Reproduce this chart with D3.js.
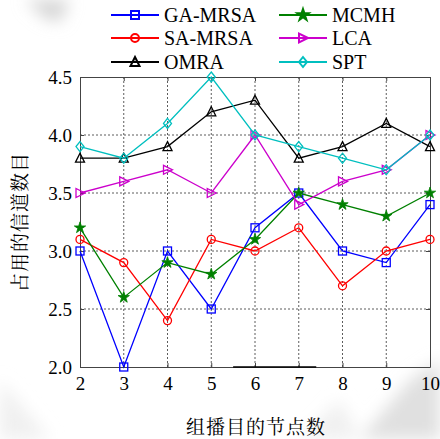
<!DOCTYPE html>
<html>
<head>
<meta charset="utf-8">
<script src="https://cdn.jsdelivr.net/npm/d3@7"></script>
<style>
  body { margin: 0; background: #fff; }
  svg { display: block; }
</style>
</head>
<body>
<svg id="chart" width="440" height="439"></svg>
<script>
// Data
const nodes = [2, 3, 4, 5, 6, 7, 8, 9, 10];
const gaMrsa = [3.0, 2.0, 3.0, 2.5, 3.2, 3.5, 3.0, 2.9, 3.4];
const saMrsa = [3.1, 2.9, 2.4, 3.1, 3.0, 3.2, 2.7, 3.0, 3.1];
const omra   = [3.8, 3.8, 3.9, 4.2, 4.3, 3.8, 3.9, 4.1, 3.9];
const mcmh   = [3.2, 2.6, 2.9, 2.8, 3.1, 3.5, 3.4, 3.3, 3.5];
const lca    = [3.5, 3.6, 3.7, 3.5, 4.0, 3.4, 3.6, 3.7, 4.0];
const spt    = [3.9, 3.8, 4.1, 4.5, 4.0, 3.9, 3.8, 3.7, 4.0];
const yTicks = [2.0, 2.5, 3.0, 3.5, 4.0, 4.5];

const SERIF = '"Liberation Serif", "Noto Serif CJK SC", serif';
const CJK = '"Noto Serif CJK SC"';

// Plot box
let margin = { top: 77, left: 80, right: 10, bottom: 72 },
    width = 440 - margin.left - margin.right,
    height = 439 - margin.top - margin.bottom;

let svg = d3.select("#chart");

// Faint grey watermark smudges from the scanned page
let defs = svg.append("defs");
defs.append("filter").attr("id", "blur").attr("x", "-50%").attr("y", "-50%").attr("width", "200%").attr("height", "200%")
  .append("feGaussianBlur").attr("stdDeviation", 8);
let smudge = svg.append("g").attr("filter", "url(#blur)");
smudge.append("path").attr("d", "M25,0L70,0L60,22L45,18Z").attr("fill", "#d4d4d4");
smudge.append("path").attr("d", "M360,439L410,380L440,360L440,439Z").attr("fill", "#e0e0e0");
smudge.append("path").attr("d", "M300,439L340,400L360,439Z").attr("fill", "#f0f0f0");
smudge.append("path").attr("d", "M0,380L50,439L0,439Z").attr("fill", "#f0f0f0");

let x = d3.scaleLinear().domain([2, 10]).range([0, width]);
let y = d3.scaleLinear().domain([2, 4.5]).range([height, 0]);

let series = [
  { name: "GA-MRSA", values: gaMrsa, color: "#0000ff", marker: "square" },
  { name: "SA-MRSA", values: saMrsa, color: "#ff0000", marker: "circle" },
  { name: "OMRA",    values: omra,   color: "#000000", marker: "triUp" },
  { name: "MCMH",    values: mcmh,   color: "#008000", marker: "star" },
  { name: "LCA",     values: lca,    color: "#cc00cc", marker: "triRight" },
  { name: "SPT",     values: spt,    color: "#00bfbf", marker: "diamond" }
];

// Draws a marker shape centered at (0,0)
function drawMarker(g, type, color) {
  let s = 4;
  if (type === "square") {
    g.append("rect").attr("x", -s).attr("y", -s).attr("width", 2 * s).attr("height", 2 * s)
      .attr("fill", "none").attr("stroke", color).attr("stroke-width", 1.3);
  } else if (type === "circle") {
    g.append("circle").attr("r", s).attr("fill", "none").attr("stroke", color).attr("stroke-width", 1.3);
  } else if (type === "triUp") {
    g.append("path").attr("d", `M0,${-s - 1}L${s + 0.5},${s}L${-s - 0.5},${s}Z`)
      .attr("fill", "none").attr("stroke", color).attr("stroke-width", 1.3);
  } else if (type === "triRight") {
    g.append("path").attr("d", `M${s + 1},0L${-s},${-s - 0.5}L${-s},${s + 0.5}Z`)
      .attr("fill", "none").attr("stroke", color).attr("stroke-width", 1.3);
  } else if (type === "diamond") {
    g.append("path").attr("d", `M0,${-s - 1}L${s},0L0,${s + 1}L${-s},0Z`)
      .attr("fill", "none").attr("stroke", color).attr("stroke-width", 1.3);
  } else if (type === "star") {
    g.append("path").attr("d", d3.symbol().type(d3.symbolStar).size(40)())
      .attr("fill", color).attr("stroke", color).attr("stroke-width", 0.8);
  }
}

let plot = svg.append("g").attr("transform", `translate(${margin.left},${margin.top})`);

// Grid lines
plot.selectAll(".vgrid").data(nodes.slice(1, -1)).enter().append("line")
  .attr("x1", d => x(d)).attr("x2", d => x(d)).attr("y1", 0).attr("y2", height)
  .attr("stroke", "#333").attr("stroke-width", 0.8).attr("stroke-dasharray", "2,2");
plot.selectAll(".hgrid").data(yTicks.slice(1, -1)).enter().append("line")
  .attr("x1", 0).attr("x2", width).attr("y1", d => y(d)).attr("y2", d => y(d))
  .attr("stroke", "#333").attr("stroke-width", 0.8).attr("stroke-dasharray", "2,2");

// Axes
let xAxis = d3.axisBottom(x).tickValues(nodes).tickFormat(d3.format("d")).tickSizeInner(-4).tickSizeOuter(0).tickPadding(10);
let yAxis = d3.axisLeft(y).tickValues(yTicks).tickFormat(d3.format(".1f")).tickSizeInner(-4).tickSizeOuter(0).tickPadding(8);

let gx = plot.append("g").attr("transform", `translate(0,${height})`).call(xAxis);
let gy = plot.append("g").call(yAxis);
let gyr = plot.append("g").attr("transform", `translate(${width},0)`)
  .call(d3.axisRight(y).tickValues(yTicks).tickFormat("").tickSizeInner(-4).tickSizeOuter(0));
let gxt = plot.append("g")
  .call(d3.axisTop(x).tickValues(nodes).tickFormat("").tickSizeInner(-4).tickSizeOuter(0));

[gx, gy, gyr, gxt].forEach(g => {
  g.attr("font-family", SERIF).attr("font-size", 19);
  g.select(".domain").attr("stroke", "#444").attr("stroke-width", 1);
  g.selectAll(".tick line").attr("stroke", "#444");
  g.selectAll("text").style("font-family", SERIF)
    .style("font-size", "19px").attr("fill", "#000");
});

// Darker stretch on the bottom edge seen in the scan
plot.append("line").attr("x1", x(5.5)).attr("x2", x(7.4)).attr("y1", height).attr("y2", height)
  .attr("stroke", "#000").attr("stroke-width", 1.6);

// Lines and markers
let line = d3.line().x((d, i) => x(nodes[i])).y(d => y(d));
series.forEach(s => {
  plot.append("path").datum(s.values).attr("d", line)
    .attr("fill", "none").attr("stroke", s.color).attr("stroke-width", 1.3);
  s.values.forEach((v, i) => {
    let g = plot.append("g").attr("transform", `translate(${x(nodes[i])},${y(v)})`);
    drawMarker(g, s.marker, s.color);
  });
});

// Legend (two columns)
let legendCols = [111, 279];
let legendRows = [15, 38, 62];
series.forEach((s, i) => {
  let lx = legendCols[Math.floor(i / 3)], ly = legendRows[i % 3];
  let g = svg.append("g").attr("transform", `translate(${lx},${ly})`);
  g.append("line").attr("x1", 0).attr("x2", 48).attr("y1", 0).attr("y2", 0)
    .attr("stroke", s.color).attr("stroke-width", 2);
  let m = g.append("g").attr("transform", "translate(24,0)");
  drawMarker(m, s.marker, s.color);
  m.selectAll("*").attr("stroke-width", 2);
  g.append("text").attr("x", 53).attr("y", 7).style("font-family", SERIF)
    .style("font-size", "20px").text(s.name);
});

// Axis titles
svg.append("text")
  .attr("transform", `translate(27,${margin.top + height / 2}) rotate(-90)`)
  .attr("text-anchor", "middle")
  .style("font-family", CJK)
  .style("font-size", "19px").style("letter-spacing", "1px")
  .text("占用的信道数目");

svg.append("text")
  .attr("x", 256).attr("y", 434)
  .attr("text-anchor", "middle")
  .style("font-family", CJK)
  .style("font-size", "19px").style("letter-spacing", "1px")
  .text("组播目的节点数");
</script>
</body>
</html>
